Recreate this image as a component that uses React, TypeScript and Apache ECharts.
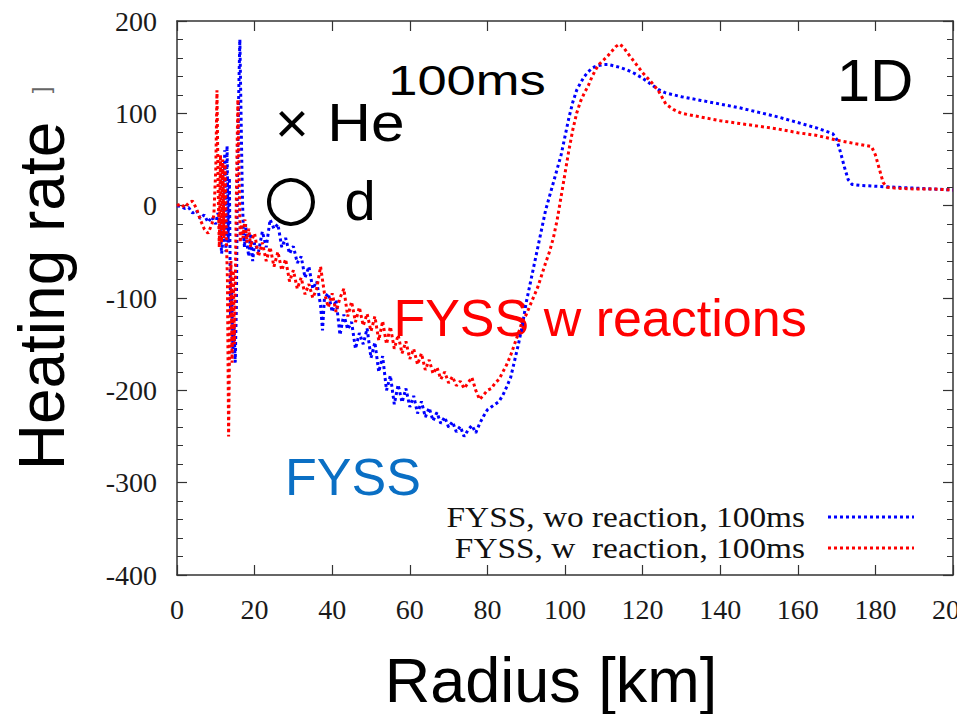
import React, { useEffect, useRef } from "react";
import * as echarts from "echarts";

// Heating rate profiles at 100 ms (1D), with and without light-cluster reactions
const radiusWo = [
  0, 1, 2, 3, 4, 5, 6, 7, 8, 9, 10, 10.5, 11, 11.5, 12, 12.3, 12.6, 12.9, 13.2, 13.5,
  13.8, 14.1, 14.4, 14.7, 15, 15.3, 15.6, 15.9, 16.2, 16.5, 16.8, 17.1, 17.4, 17.7, 18, 18.5,
  19, 19.5, 20, 21, 22, 23, 24, 25, 26, 27, 28, 29, 30, 31, 32, 33, 34, 35, 36, 37, 37.5,
  38, 39, 40, 41, 42, 43, 44, 45, 46, 47, 48, 49, 50, 51, 52, 53, 54, 55, 56, 57, 58, 59,
  60, 61, 62, 63, 64, 65, 66, 67, 68, 69, 70, 71, 72, 73, 74, 75, 76, 77, 78, 79, 80, 81,
  82, 83, 84, 85, 86, 87, 88, 89, 90, 91, 92, 93, 94, 95, 96, 97, 98, 99, 100, 101, 102,
  103, 104, 105, 106, 107, 108, 109, 110, 111, 112, 114, 116, 118, 120, 122, 124, 126,
  130, 135, 140, 145, 150, 155, 160, 165, 169, 170, 171, 172, 173, 174, 176, 180, 185,
  190, 195, 200,
];
const rateWo = [
  0, -1, -3, -2, -8, -5, -14, -10, -18, -12, -20, -8, -15, -52, -30, 60, -50, 65, -40, 30,
  -120, -90, -160, -130, -170, -110, 40, 120, 180, 100, 20, -30, -45, -20, -40, -55,
  -30, -60, -40, -50, -28, -45, -15, -25, -20, -45, -35, -52, -44, -62, -55, -78, -66, -90, -82, -108, -135,
  -100, -95, -115, -102, -140, -118, -134, -126, -155, -138, -150, -133, -165, -148, -180, -163, -200, -184, -215, -194, -213, -198,
  -218, -206, -225, -212, -229, -219, -233, -224, -236, -229, -240, -234, -245, -239, -250, -243, -238, -246, -236, -228, -221, -218,
  -215, -212, -205, -196, -186, -168, -150, -130, -105, -85, -65, -45, -25, -5, 10, 25, 40, 55, 75, 95, 112,
  125, 133, 140, 145, 149, 151, 152, 153, 153, 152, 150, 147, 143, 138, 132, 126, 122,
  118, 114, 110, 106, 101, 96, 90, 84, 78, 72, 58, 42, 28, 23, 22, 21, 20,
  19, 18, 17,
];

const radiusW = [
  0, 1, 2, 3, 4, 5, 6, 7, 8, 9, 9.5, 10, 10.3, 10.6, 10.9, 11.2, 11.5, 11.8, 12.1, 12.4,
  12.7, 13, 13.3, 13.6, 13.9, 14.2, 14.5, 14.8, 15.1, 15.4, 15.7, 16, 16.3, 16.6, 17, 17.5,
  18, 18.5, 19, 19.5, 20, 21, 22, 23, 24, 25, 26, 27, 28, 29, 30, 31, 32, 33, 34, 35, 36,
  37, 38, 39, 40, 41, 42, 43, 44, 45, 46, 47, 48, 49, 50, 51, 52, 53, 54, 55, 56, 57, 58,
  59, 60, 61, 62, 63, 64, 65, 66, 67, 68, 69, 70, 71, 72, 73, 74, 75, 76, 77, 78, 79, 80,
  81, 82, 83, 84, 85, 86, 87, 88, 89, 90, 91, 92, 93, 94, 95, 96, 97, 98, 99, 100, 101,
  102, 103, 104, 105, 106, 107, 108, 109, 110, 111, 112, 113, 114, 115, 116, 118, 120,
  122, 124, 126, 128, 130, 135, 140, 145, 150, 155, 160, 165, 170, 175, 179, 180, 181,
  182, 183, 185, 190, 195, 200,
];
const rateW = [
  0, 2, -2, 3, 5, -3, -15, -25, -30, -20, -10, 40, 125, 20, -45, 55, -40, 50, -35, 45,
  -30, -80, -250, -130, -60, -170, -70, -150, -60, 40, 115, 30, -40, -20, -35, -15,
  -40, -25, -45, -35, -30, -55, -40, -60, -45, -66, -50, -70, -58, -82, -70, -90, -78, -96, -85, -100, -90,
  -66, -95, -110, -95, -115, -100, -90, -120, -104, -126, -110, -130, -117, -136, -120, -146, -125, -150, -131, -155, -140, -160,
  -147, -166, -155, -172, -160, -178, -167, -182, -175, -188, -180, -192, -185, -195, -190, -198, -192, -186, -200, -210, -205, -200,
  -198, -192, -188, -180, -172, -162, -150, -138, -125, -118, -108, -98, -88, -75, -62, -50, -35, -15, 10, 35, 60,
  82, 100, 113, 122, 130, 140, 148, 154, 158, 162, 167, 172, 175, 172, 166, 155, 144,
  135, 125, 110, 104, 100, 96, 92, 89, 86, 83, 79, 76, 71, 67, 64, 55, 40,
  25, 20, 19, 18, 18, 17,
];

const xTicks = { min: 0, max: 200, interval: 20 };
const yTicks = { min: -400, max: 200, interval: 100 };

const legendLabels = ["FYSS, wo reaction, 100ms", "FYSS, w\u00a0 reaction, 100ms"];

const zip = (xs: number[], ys: number[]) => xs.map((x, i) => [x, ys[i]]);

const SERIF = "'Liberation Serif', 'Times New Roman', serif";
const SANS = "'Liberation Sans', Arial, sans-serif";
const AXIS_COLOR = "#333";

export default function App() {
  const ref = useRef<HTMLDivElement>(null);

  useEffect(() => {
    if (!ref.current) return;
    const chart = echarts.init(ref.current, undefined, { renderer: "svg" });

    const frameAxis = (show: boolean) => ({
      axisLine: { show: true, onZero: false, lineStyle: { color: AXIS_COLOR, width: 1.5 } },
      axisTick: { show: true, inside: true, length: 10, lineStyle: { color: AXIS_COLOR, width: 1.2 } },
      splitLine: { show: false },
      axisLabel: {
        show,
        fontFamily: SERIF,
        fontSize: 28,
        color: "#1a1a1a",
      },
    });

    const keyEntry = (label: string, color: string, y: number) => [
      {
        type: "text",
        x: 805,
        y,
        scaleX: 1.15,
        style: {
          text: label,
          font: `29px ${SERIF}`,
          fill: "#111",
          align: "right",
          verticalAlign: "middle",
        },
      },
      {
        type: "line",
        shape: { x1: 828, y1: y, x2: 914, y2: y },
        style: { stroke: color, lineWidth: 3, lineDash: [3, 3] },
      },
    ];

    chart.setOption({
      animation: false,
      backgroundColor: "#ffffff",
      grid: { left: 177, right: 4, top: 21, bottom: 139, containLabel: false, outerBoundsMode: "none" },
      xAxis: [
        {
          type: "value",
          position: "bottom",
          ...xTicks,
          ...frameAxis(true),
          axisLabel: { ...frameAxis(true).axisLabel, margin: 20 },
        },
        {
          type: "value",
          position: "top",
          ...xTicks,
          ...frameAxis(false),
        },
      ],
      yAxis: [
        {
          type: "value",
          position: "left",
          ...yTicks,
          ...frameAxis(true),
          axisLabel: { ...frameAxis(true).axisLabel, margin: 20 },
          minorTick: { show: true, splitNumber: 5, length: 6, lineStyle: { color: AXIS_COLOR, width: 1 } },
        },
        {
          type: "value",
          position: "right",
          ...yTicks,
          ...frameAxis(false),
          minorTick: { show: true, splitNumber: 5, length: 6, lineStyle: { color: AXIS_COLOR, width: 1 } },
        },
      ],
      series: [
        {
          name: legendLabels[0],
          type: "line",
          data: zip(radiusWo, rateWo),
          showSymbol: false,
          symbol: "none",
          lineStyle: { color: "#0000ff", width: 3, type: [3, 3] },
          z: 2,
        },
        {
          name: legendLabels[1],
          type: "line",
          data: zip(radiusW, rateW),
          showSymbol: false,
          symbol: "none",
          lineStyle: { color: "#ff0000", width: 3, type: [3, 3] },
          z: 3,
        },
      ],
      graphic: [
        // axis titles
        {
          type: "text",
          x: 42,
          y: 296,
          rotation: Math.PI / 2,
          style: {
            text: "Heating rate",
            font: `64px ${SANS}`,
            fill: "#000",
            align: "center",
            verticalAlign: "middle",
          },
        },
        {
          type: "text",
          x: 40,
          y: 90,
          rotation: Math.PI / 2,
          style: {
            text: "]",
            font: `24px ${SANS}`,
            fill: "#666",
            align: "center",
            verticalAlign: "middle",
          },
        },
        {
          type: "text",
          x: 551,
          y: 680,
          style: {
            text: "Radius [km]",
            font: `63px ${SANS}`,
            fill: "#000",
            align: "center",
            verticalAlign: "middle",
          },
        },
        // annotations
        {
          type: "text",
          x: 467,
          y: 80,
          scaleX: 1.25,
          style: {
            text: "100ms",
            font: `42px ${SANS}`,
            fill: "#000",
            align: "center",
            verticalAlign: "middle",
          },
        },
        {
          type: "text",
          x: 292,
          y: 122,
          style: {
            text: "\u00d7",
            font: `58px ${SANS}`,
            fill: "#000",
            align: "center",
            verticalAlign: "middle",
          },
        },
        {
          type: "text",
          x: 366,
          y: 122,
          scaleX: 1.12,
          style: {
            text: "He",
            font: `54px ${SANS}`,
            fill: "#000",
            align: "center",
            verticalAlign: "middle",
          },
        },
        {
          type: "circle",
          shape: { cx: 291, cy: 202, r: 22 },
          style: { fill: "none", stroke: "#000", lineWidth: 4 },
        },
        {
          type: "text",
          x: 360,
          y: 200,
          style: {
            text: "d",
            font: `56px ${SANS}`,
            fill: "#000",
            align: "center",
            verticalAlign: "middle",
          },
        },
        {
          type: "text",
          x: 875,
          y: 80,
          style: {
            text: "1D",
            font: `60px ${SANS}`,
            fill: "#000",
            align: "center",
            verticalAlign: "middle",
          },
        },
        {
          type: "text",
          x: 600,
          y: 318,
          style: {
            text: "FYSS w reactions",
            font: `52px ${SANS}`,
            fill: "#ff0000",
            align: "center",
            verticalAlign: "middle",
          },
        },
        {
          type: "text",
          x: 353,
          y: 477,
          style: {
            text: "FYSS",
            font: `52px ${SANS}`,
            fill: "#0a6fc4",
            align: "center",
            verticalAlign: "middle",
          },
        },
        // key
        ...keyEntry(legendLabels[0], "#0000ff", 517),
        ...keyEntry(legendLabels[1], "#ff0000", 548),
      ],
    });

    return () => chart.dispose();
  }, []);

  return (
    <div
      ref={ref}
      style={{ position: "absolute", left: 0, top: 0, width: 957, height: 714, background: "#fff" }}
    />
  );
}
